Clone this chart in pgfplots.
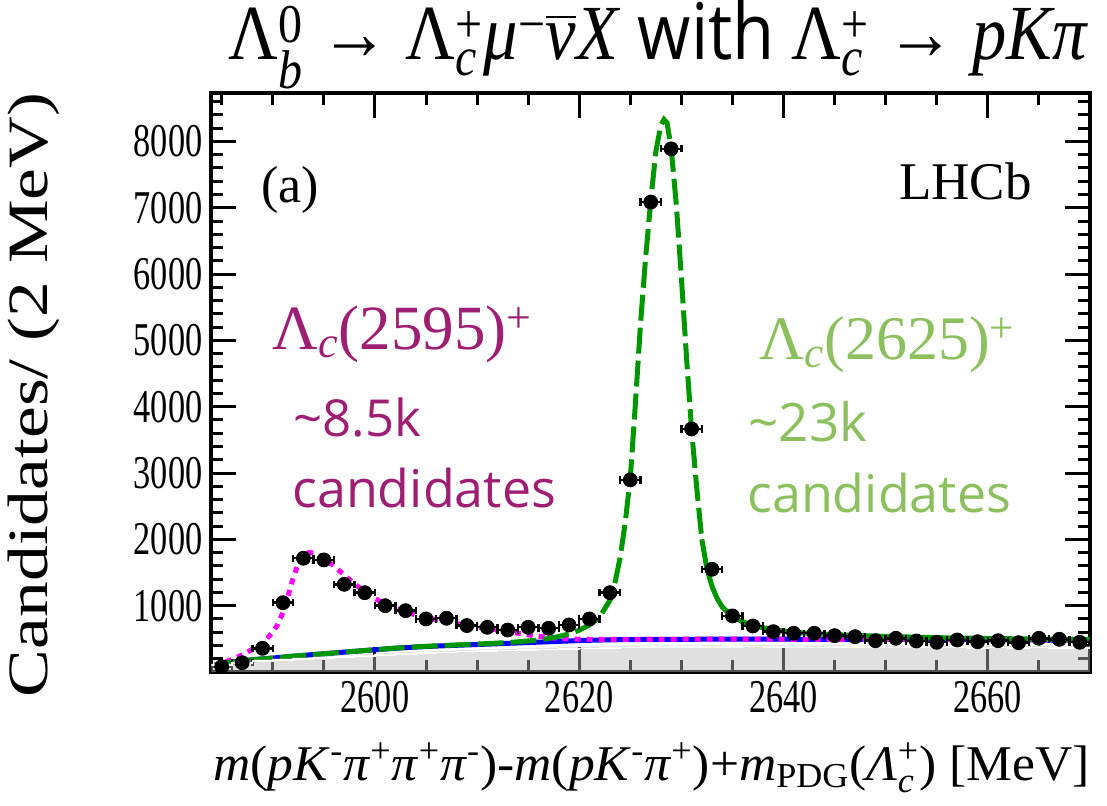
\documentclass[border=0pt]{standalone}
\usepackage{amsmath}
\usepackage{fontspec}
\setmainfont{Liberation Serif}
\newfontfamily\tnr{Liberation Serif}
\newfontfamily\gsans{Open Sans}
\usepackage{graphicx}
\usepackage{pgfplots}
\pgfplotsset{compat=1.18}
\usepackage{pgfplotstable}

\definecolor{fitgreen}{RGB}{0,150,0}
\definecolor{fitmag}{RGB}{255,0,255}
\definecolor{txtmag}{RGB}{158,30,116}
\definecolor{txtgreen}{RGB}{140,192,95}

% binned data: centre, candidates per 2 MeV, half bin width
\pgfplotstableread{
x y ex
2585 80 1
2587 140 1
2589 357 1
2591 1045 1
2593 1715 1
2595 1690 1
2597 1322 1
2599 1196 1
2601 1000 1
2603 925 1
2605 800 1
2607 810 1
2609 700 1
2611 674 1
2613 633 1
2615 674 1
2617 659 1
2619 709 1
2621 800 1
2623 1196 1
2625 2896 1
2627 7085 1
2629 7888 1
2631 3665 1
2633 1549 1
2635 845 1
2637 694 1
2639 608 1
2641 584 1
2643 584 1
2645 548 1
2647 533 1
2649 472 1
2651 508 1
2653 468 1
2655 448 1
2657 483 1
2659 457 1
2661 472 1
2663 442 1
2665 508 1
2667 493 1
2669 448 1
}\datatable

% combinatorial background
\pgfplotstableread{
x y
2584.3 100
2585 125
2586 150
2588 185
2590 210
2592 238
2594 263
2596 287
2598 312
2600 335
2602 358
2604 376
2606 391
2608 403
2610 414
2612 426
2614 438
2616 450
2618 462
2620 474
2622 482
2624 487
2626 490
2628 492
2632 494
2640 494
2650 491
2660 486
2670 479
}\bkgtable

% background + Lambda_c(2595)
\pgfplotstableread{
x y
2584.3 95
2585 130
2586 190
2587 256
2588 340
2589 433
2590 600
2590.5 720
2591 900
2591.5 1150
2592 1420
2592.5 1640
2593 1760
2593.5 1800
2594 1795
2594.5 1760
2595 1710
2596 1600
2597 1460
2598 1330
2599 1210
2600 1110
2601 1020
2602 960
2603 910
2604 860
2605 820
2606 790
2607 760
2608 730
2609 705
2610 680
2611 655
2612 630
2613 608
2614 585
2615 560
2616 540
2617 520
2618 505
2619 498
2620 495
2622 492
2625 492
2630 494
2640 494
2650 491
2660 486
2670 479
}\sigAtable

% background + Lambda_c(2625), rising edge and peak
\pgfplotstableread{
x y
2584.3 100
2585 125
2586 150
2588 185
2590 210
2592 238
2594 263
2596 287
2598 312
2600 336
2602 360
2604 379
2606 395
2608 408
2610 421
2612 436
2614 455
2616 482
2617 505
2618 535
2619 575
2620 630
2621 710
2622 830
2623 1080
2623.5 1350
2624 1720
2624.5 2250
2625 2930
2625.5 4050
2626 5250
2626.5 6250
2627 7100
2627.5 7850
2628 8250
2628.3 8330
2628.6 8280
2629 7900
2629.5 7050
2630 5950
2630.5 4750
2631 3650
2631.5 2780
2632 2000
}\sigBtable

% background + Lambda_c(2625), falling tail
\pgfplotstableread{
x y
2632 2000
2632.5 1560
2633 1290
2633.5 1110
2634 980
2635 835
2636 755
2637 705
2638 668
2640 618
2642 588
2645 562
2650 536
2655 518
2660 505
2665 497
2670 490
}\sigBtail

% feed-down component (histogram, left bin edges)
\pgfplotstableread{
x y
2584 130
2586 165
2588 190
2590 205
2592 220
2594 235
2596 250
2598 265
2600 285
2602 300
2604 312
2606 322
2608 332
2610 340
2612 350
2614 358
2616 366
2618 374
2620 382
2622 388
2624 395
2626 400
2628 400
2630 402
2632 405
2634 398
2636 408
2638 404
2640 400
2642 396
2644 405
2646 398
2648 402
2650 395
2652 400
2654 392
2656 398
2658 390
2660 395
2662 388
2664 392
2666 385
2668 390
2670 390
}\feedtable

\begin{document}
\begin{tikzpicture}
\begin{axis}[
  scale only axis,
  width=439.25bp, height=289.5bp,
  xmin=2584, xmax=2670, ymin=0, ymax=8730,
  xtick={2600,2620,2640,2660},
  minor xtick={2585,2590,...,2670},
  ytick={1000,2000,...,8000},
  minor ytick={200,400,...,8600},
  tick align=inside,
  tick pos=both,
  major tick length=12.5bp,
  minor tick length=6bp,
  every tick/.style={black, line width=1.5bp},
  axis line style={line width=2bp},
  xticklabel={\scalebox{0.73}[1]{\tnr\pgfmathprintnumber[assume math mode=true,fixed,precision=0,1000 sep={}]{\tick}}},
  yticklabel={\scalebox{0.73}[1]{\tnr\pgfmathprintnumber[assume math mode=true,fixed,precision=0,1000 sep={}]{\tick}}},
  tick label style={font=\tnr\fontsize{23.5bp}{24bp}\selectfont},
  yticklabel style={xshift=-1bp},
  xticklabel style={yshift=-1bp},
]
\addplot[blue, line width=2.5bp] table[x=x,y=y] {\bkgtable};
\addplot[fitmag, line width=2.5bp, dash pattern=on 3bp off 3bp] table[x=x,y=y] {\sigAtable};
\addplot[fitgreen, line width=2.5bp, dash pattern=on 13bp off 3.5bp] table[x=x,y=y] {\sigBtable};
\addplot[fitgreen, line width=2.5bp] table[x=x,y=y] {\sigBtail};
\addplot[only marks, mark=*, mark size=3.5bp, black,
  error bars/.cd, x dir=both, x explicit, error mark=|,
  error bar style={line width=1.2bp},
  error mark options={line width=1.2bp, mark size=1.8bp}]
  table[x=x, y=y, x error=ex] {\datatable};
\addplot[const plot, draw=none, fill=black!27, fill opacity=0.45] table[x=x,y=y] {\feedtable} \closedcycle;
\addplot[const plot, white, line width=0.8bp] table[x=x,y expr=\thisrow{y}-25] {\feedtable};
\end{axis}

% title
\node[anchor=base west, inner sep=0] at (8.25bp,306bp)
  {\resizebox{430bp}{\height}{\tnr\fontsize{39bp}{41bp}\selectfont Λ$^{\text{0}}_{\text{\itshape b}}$ → Λ$^{\text{+}}_{\text{\itshape c}}$\textit{μ}$^{\text{−}}\overline{\text{\itshape ν}}$\textit{X} {\gsans with} Λ$^{\text{+}}_{\text{\itshape c}}$ → \textit{pKπ}}};

% axis titles
\node[anchor=base east, inner sep=0] at (439.25bp,-54bp)
  {\resizebox{438bp}{\height}{\tnr\fontsize{25bp}{27bp}\selectfont\textit{m}(\textit{pK}$^{\text{-}}$\textit{π}$^{\text{+}}$\textit{π}$^{\text{+}}$\textit{π}$^{\text{-}}$)-\textit{m}(\textit{pK}$^{\text{-}}$\textit{π}$^{\text{+}}$)+\textit{m}$_{\text{PDG}}$(\textit{Λ}$^{\text{+}}_{\text{\itshape c}}$) [MeV]}};
\node[rotate=90, inner sep=0] at (-89bp,138.5bp)
  {\resizebox{302bp}{\height}{\tnr\fontsize{28.5bp}{30bp}\selectfont Candidates/ (2 MeV)}};

% panel tags
\node[inner sep=0, font=\tnr\fontsize{26bp}{28bp}\selectfont] at (39.25bp,241bp) {(a)};
\node[anchor=base east, inner sep=0, font=\tnr\fontsize{26.5bp}{28bp}\selectfont] at (410.25bp,236bp) {LHCb};

% yields
\node[anchor=base west, inner sep=0, text=txtmag, font=\tnr\fontsize{31.5bp}{33bp}\selectfont] at (30.25bp,161bp) {Λ$_{\text{\itshape c}}$(2595)$^{\text{+}}$};
\node[anchor=base west, inner sep=0, text=txtmag, font=\gsans\fontsize{25.5bp}{29bp}\selectfont] at (40.75bp,117.5bp) {\char`~8.5k};
\node[anchor=base west, inner sep=0, text=txtmag, font=\gsans\fontsize{26bp}{29bp}\selectfont] at (40.25bp,82bp) {candidates};
\node[anchor=base west, inner sep=0, text=txtgreen, font=\tnr\fontsize{31bp}{33bp}\selectfont] at (273.75bp,156bp) {Λ$_{\text{\itshape c}}$(2625)$^{\text{+}}$};
\node[anchor=base west, inner sep=0, text=txtgreen, font=\gsans\fontsize{26.5bp}{29bp}\selectfont] at (268.25bp,115bp) {\char`~23k};
\node[anchor=base west, inner sep=0, text=txtgreen, font=\gsans\fontsize{26bp}{29bp}\selectfont] at (267.75bp,79.5bp) {candidates};

\pgfresetboundingbox
\path[use as bounding box] (-105.75bp,-67bp) rectangle (447.75bp,336bp);
\end{tikzpicture}
\end{document}
